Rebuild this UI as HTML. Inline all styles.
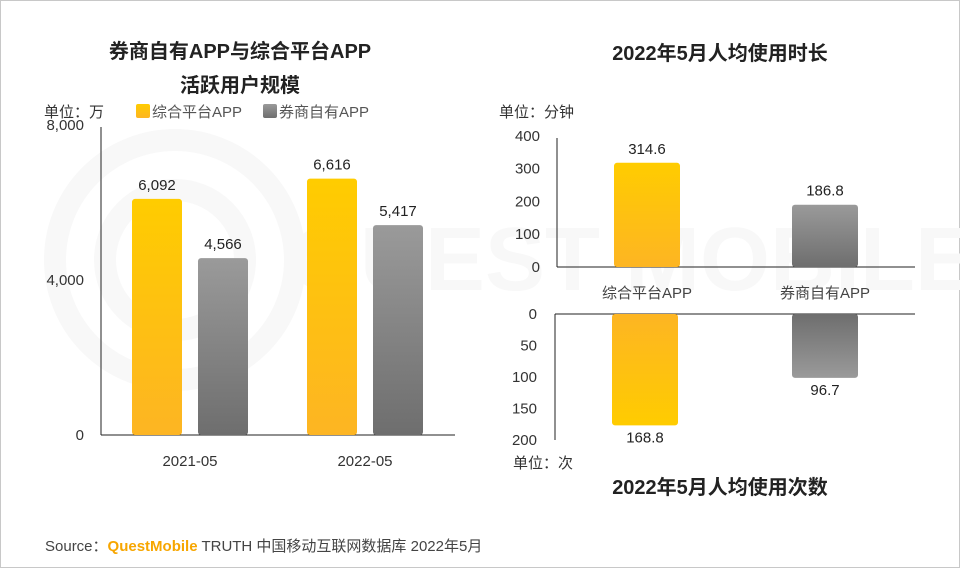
<!DOCTYPE html>
<html><head><meta charset="utf-8"><style>
body{margin:0;background:#fff;}
svg{display:block;font-family:"Liberation Sans","Noto Sans CJK SC",sans-serif;}
</style></head><body>
<svg id="c" width="960" height="568" viewBox="0 0 960 568">
<defs>
<linearGradient id="gy" x1="0" y1="0" x2="0" y2="1"><stop offset="0" stop-color="#ffcc00"/><stop offset="1" stop-color="#fdb523"/></linearGradient>
<linearGradient id="gg" x1="0" y1="0" x2="0" y2="1"><stop offset="0" stop-color="#9a9a9a"/><stop offset="1" stop-color="#6e6e6e"/></linearGradient>
<linearGradient id="gyr" x1="0" y1="1" x2="0" y2="0"><stop offset="0" stop-color="#ffcc00"/><stop offset="1" stop-color="#fdb523"/></linearGradient>
<linearGradient id="ggr" x1="0" y1="1" x2="0" y2="0"><stop offset="0" stop-color="#9a9a9a"/><stop offset="1" stop-color="#6e6e6e"/></linearGradient>
</defs>
<rect x="0.5" y="0.5" width="959" height="567" fill="#fff" stroke="#c8c8c8"/>
<g fill="none" stroke="#f8f8f8" stroke-width="22">
<circle cx="175" cy="260" r="120"/><circle cx="175" cy="260" r="70"/>
<text x="290" y="290" font-size="90" fill="#f8f8f8" stroke="none" font-weight="bold">QUEST MOBILE</text>
</g>
<g font-size="20" font-weight="bold" fill="#222" text-anchor="middle">
<text x="240" y="58">券商自有APP与综合平台APP</text>
<text x="240" y="92">活跃用户规模</text>
<text x="720" y="60">2022年5月人均使用时长</text>
<text x="720" y="494">2022年5月人均使用次数</text>
</g>
<g font-size="15" fill="#333">
<text x="44" y="117">单位：万</text>
<text x="499" y="117">单位：分钟</text>
<text x="513" y="468">单位：次</text>
</g>
<g font-size="15" fill="#555">
<rect x="136" y="104" width="14" height="14" rx="2" fill="url(#gy)"/>
<text x="152" y="117">综合平台APP</text>
<rect x="263" y="104" width="14" height="14" rx="2" fill="url(#gg)"/>
<text x="279" y="117">券商自有APP</text>
</g>
<g id="left"></g><g id="rt"></g><g id="rb"></g>
<text x="45" y="551" font-size="15" fill="#444">Source：<tspan fill="#f7a600" font-weight="bold">QuestMobile</tspan> TRUTH 中国移动互联网数据库 2022年5月</text>
</svg>
<script>
const leftCats=["2021-05","2022-05"];
const leftPlatform=[6092,6616];
const leftBroker=[4566,5417];
const leftTicks=[0,4000,8000];
const timeCats=["综合平台APP","券商自有APP"];
const timeValues=[314.6,186.8];
const timeTicks=[0,100,200,300,400];
const countValues=[168.8,96.7];
const countTicks=[0,50,100,150,200];
const NS="http://www.w3.org/2000/svg";
function el(p,t,a,txt){const e=document.createElementNS(NS,t);for(const k in a)e.setAttribute(k,a[k]);if(txt!==undefined)e.textContent=txt;p.appendChild(e);return e;}
function fmt(v){return v.toLocaleString('en-US');}
const L=document.getElementById('left');
const ly=v=>435-v/8000*310;
leftTicks.forEach(t=>{const e=el(L,'text',{x:84,y:ly(t)+5,'font-size':15,fill:'#333','text-anchor':'end'},fmt(t));

});
let a=el(L,'line',{x1:101,y1:127,x2:101,y2:435,stroke:'#222'});

a=el(L,'line',{x1:101,y1:435,x2:455,y2:435,stroke:'#222'});

leftCats.forEach((c,i)=>{
 const cx=190+i*175;
 const t=el(L,'text',{x:cx,y:466,'font-size':15,fill:'#333','text-anchor':'middle'},c);
 
 
 [[leftPlatform[i],'url(#gy)',cx-58,'platform'],[leftBroker[i],'url(#gg)',cx+8,'broker']].forEach(([v,f,x,n])=>{
  const r=el(L,'rect',{x:x,y:ly(v),width:50,height:435-ly(v),rx:3,fill:f});
  
  
  const l=el(L,'text',{x:x+25,y:ly(v)-9,'font-size':15,fill:'#222','text-anchor':'middle'},fmt(v));
  
  
 });
});
const RT=document.getElementById('rt');
const ty=v=>266-v*0.328;
timeTicks.forEach(t=>{const e=el(RT,'text',{x:540,y:ty(t)+6,'font-size':15,fill:'#333','text-anchor':'end'},t);

});
a=el(RT,'line',{x1:557,y1:138,x2:557,y2:267,stroke:'#222'});

a=el(RT,'line',{x1:557,y1:267,x2:915,y2:267,stroke:'#222'});

const fills=['url(#gy)','url(#gg)'],fillsR=['url(#gyr)','url(#ggr)'];
timeCats.forEach((c,i)=>{
 const cx=647+i*178,v=timeValues[i];
 const r=el(RT,'rect',{x:cx-33,y:ty(v),width:66,height:267-ty(v),rx:3,fill:fills[i]});
 
 
 const l=el(RT,'text',{x:cx,y:ty(v)-9,'font-size':15,fill:'#222','text-anchor':'middle'},v.toFixed(1));
 
 
 const t=el(RT,'text',{x:cx,y:298,'font-size':15,fill:'#444','text-anchor':'middle'},c);
 
 
});
const RB=document.getElementById('rb');
const by=v=>314+v*0.66;
countTicks.forEach(t=>{const e=el(RB,'text',{x:537,y:314+t*0.63+5,'font-size':15,fill:'#333','text-anchor':'end'},t);

});
a=el(RB,'line',{x1:555,y1:314,x2:555,y2:440,stroke:'#222'});

a=el(RB,'line',{x1:555,y1:314,x2:915,y2:314,stroke:'#222'});

timeCats.forEach((c,i)=>{
 const cx=645+i*180,v=countValues[i];
 const r=el(RB,'rect',{x:cx-33,y:314,width:66,height:by(v)-314,rx:3,fill:fillsR[i]});
 
 
 const l=el(RB,'text',{x:cx,y:by(v)+17,'font-size':15,fill:'#222','text-anchor':'middle'},v.toFixed(1));
 
 
});
</script>
</body></html>
